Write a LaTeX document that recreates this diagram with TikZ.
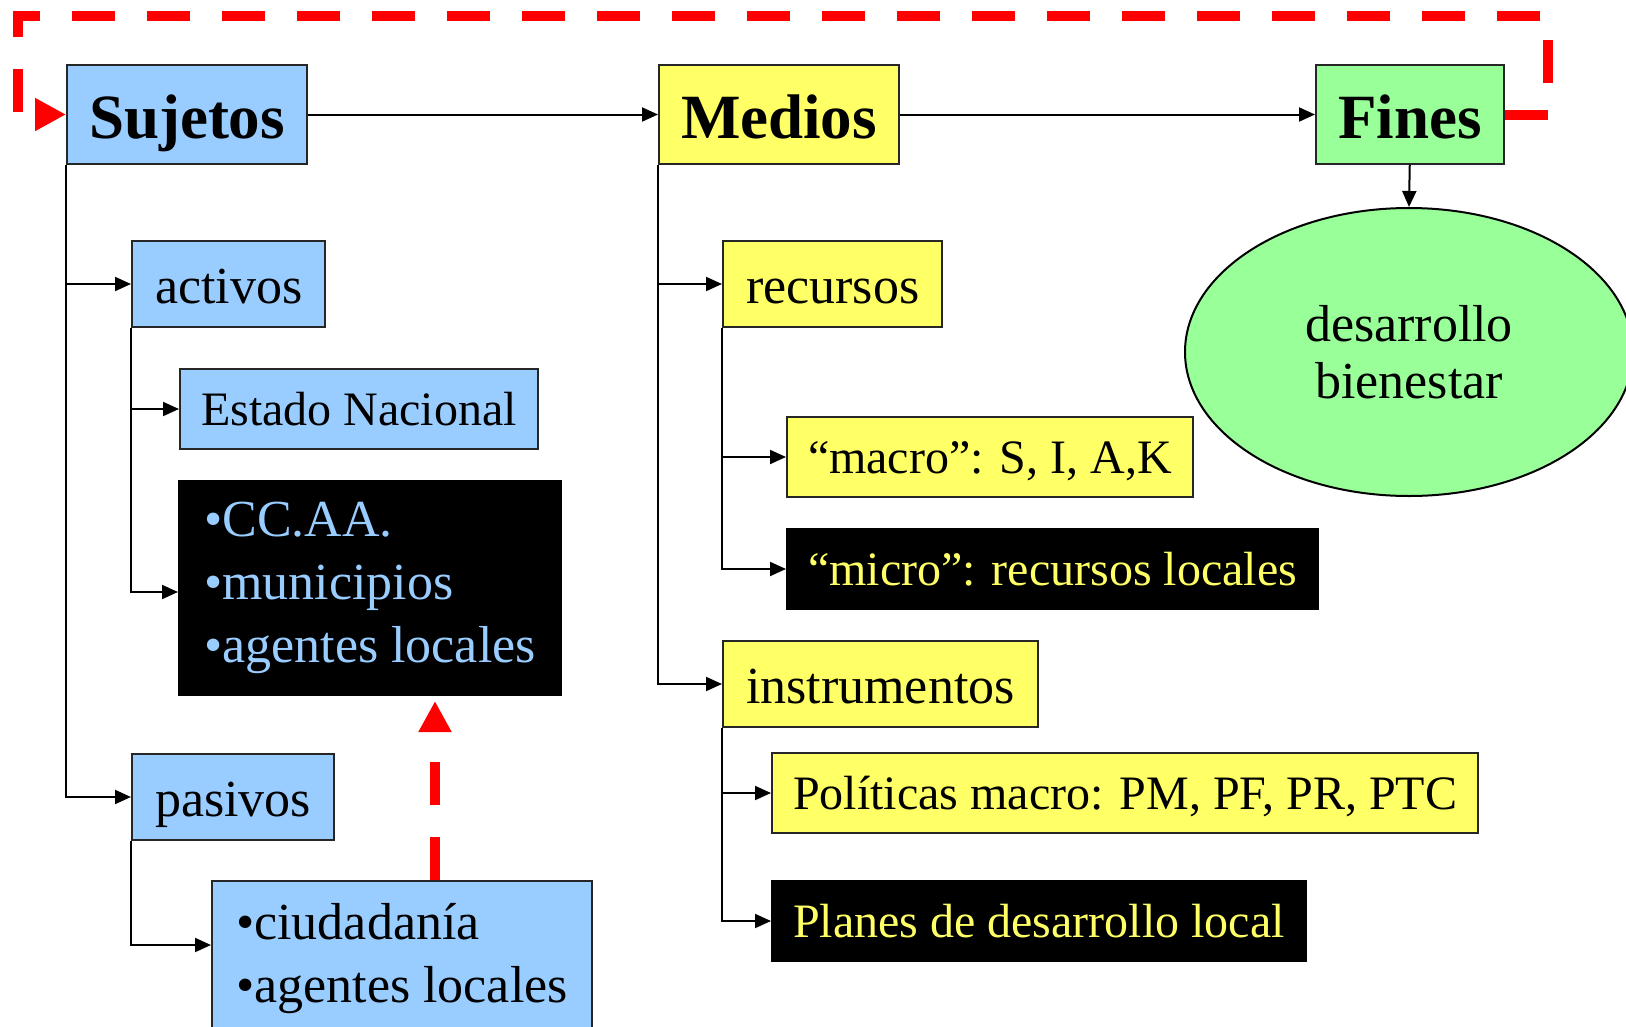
\documentclass[tikz,border=0pt]{standalone}
\usepackage{fontspec}
\setmainfont{Liberation Serif}
\usepackage{tikz}
\usetikzlibrary{arrows.meta,calc,shapes.geometric}
\definecolor{sujblue}{HTML}{99CCFF}
\definecolor{medyellow}{HTML}{FFFF66}
\definecolor{fingreen}{HTML}{99FF99}
\tikzset{
	titlebox/.style={draw=black!85, line width=2pt, anchor=north west, inner xsep=22pt, inner ysep=8pt, text height=65pt, text depth=18pt, font=\fontsize{63}{70}\selectfont\bfseries},
	itembox/.style={draw=black!85, line width=2pt, anchor=north west, inner xsep=23pt, inner ysep=8pt, text height=54pt, text depth=16pt, font=\fontsize{52}{61}\selectfont},
	subbox/.style={draw=black!85, line width=2pt, anchor=north west, inner xsep=21pt, inner ysep=8pt, text height=48pt, text depth=16pt, font=\fontsize{48}{58}\selectfont},
	listbox/.style={draw=black!85, line width=2pt, anchor=north west, align=left, inner xsep=23pt, inner ysep=0pt, font=\fontsize{52}{63}\selectfont},
	darkbox/.style={fill=black, draw=black},
	conn/.style={line width=2pt, -{Triangle[length=16pt,width=14pt]}},
	feedback/.style={red, line width=10pt, dash pattern=on 43pt off 32pt, -{Triangle[length=31pt,width=31pt]}},
}

\begin{document}
\begin{tikzpicture}[x=1pt,y=-1pt]
			%%%%% START %%%%%
			\clip (0,0) rectangle (1626,1026);
			
			\node[titlebox, fill=sujblue] (suj) at (66,64) {Sujetos};
			\node[titlebox, fill=medyellow] (med) at (658,64) {Medios};
			\node[titlebox, fill=fingreen] (fin) at (1315,64) {Fines};
			
			% sujetos
			\node[itembox, fill=sujblue] (act) at (131,240) {activos};
			\node[subbox, fill=sujblue] (est) at (179,368) {Estado Nacional};
			\node[listbox, darkbox, text=sujblue, minimum width=382pt, minimum height=214pt] (cca) at (178,480) {•CC.AA.\\•municipios\\•agentes locales};
			\node[itembox, fill=sujblue] (pas) at (131,753) {pasivos};
			\node[listbox, fill=sujblue, minimum width=380pt, minimum height=156pt] (ciu) at (211,880) {•ciudadanía\\•agentes locales};
			
			% medios
			\node[itembox, fill=medyellow] (rec) at (722,240) {recursos};
			\node[subbox, fill=medyellow] (mac) at (786,416) {“macro”: S, I, A,K};
			\node[subbox, darkbox, text=medyellow] (mic) at (786,528) {“micro”: recursos locales};
			\node[itembox, fill=medyellow] (ins) at (722,640) {instrumentos};
			\node[subbox, fill=medyellow] (pol) at (771,752) {Políticas macro: PM, PF, PR, PTC};
			\node[subbox, darkbox, text=medyellow] (pla) at (771,880) {Planes de desarrollo local};
			
			% fines
			\node[ellipse, draw=black, line width=2pt, fill=fingreen, minimum width=448pt, minimum height=288pt, align=center, font=\fontsize{52}{57}\selectfont] (des) at (1409,352) {desarrollo\\bienestar};
			
			\draw[conn] (suj.east) -- (med.west);
			\draw[conn] (med.east) -- (fin.west);
			\draw[conn] (fin.south) -- (des.north);
			
			\draw[conn] (suj.south west) |- (act.west);
			\draw[conn] (suj.south west) |- (pas.west);
			\draw[conn] (act.south west) |- (est.west);
			\draw[conn] (act.south west) |- ($(cca.north west)+(0,112)$);
			\draw[conn] (pas.south west) |- ($(ciu.north west)+(0,65)$);
			
			\draw[conn] (med.south west) |- (rec.west);
			\draw[conn] (med.south west) |- (ins.west);
			\draw[conn] (rec.south west) |- (mac.west);
			\draw[conn] (rec.south west) |- (mic.west);
			\draw[conn] (ins.south west) |- (pol.west);
			\draw[conn] (ins.south west) |- (pla.west);
			
			% red feedback loops
			\coordinate (fbTR) at (1548,16);
			\coordinate (fbTL) at (18,16);
			\draw[feedback] (fin.east) -| (fbTR) -- (fbTL) |- (suj.west);
			
			\coordinate (fbB) at (435,880);
			\draw[feedback, shorten >=5pt] (fbB) -- (fbB |- cca.south);
			
			%%%%% END %%%%%
\end{tikzpicture}
\end{document}
